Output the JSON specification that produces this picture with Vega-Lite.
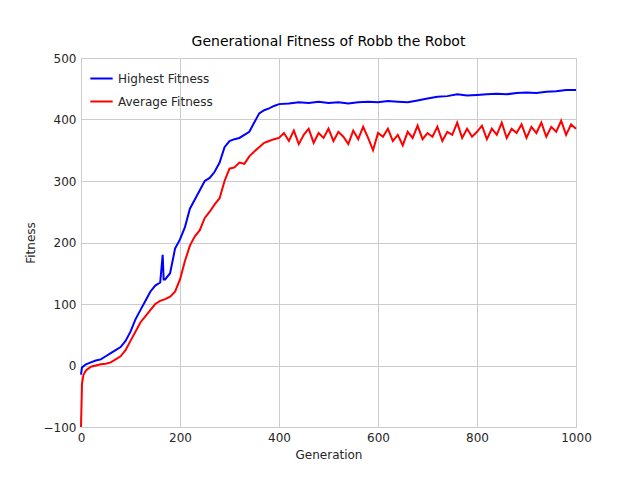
{
  "$schema": "https://vega.github.io/schema/vega-lite/v6.json",
  "width": 495,
  "height": 369,
  "autosize": "none",
  "padding": {"left": 81, "top": 58, "right": 64, "bottom": 53},
  "title": {"text": "Generational Fitness of Robb the Robot", "fontSize": 14, "fontWeight": "normal", "font": "DejaVu Sans", "offset": 3},
  "layer": [
    {
      "data": {"values": [
        {"g":0,"f":-15},{"g":2,"f":-3},{"g":10,"f":2},{"g":20,"f":5},{"g":30,"f":8},{"g":40,"f":10},{"g":50,"f":15},{"g":60,"f":20},{"g":70,"f":25},{"g":80,"f":30},{"g":90,"f":40},{"g":100,"f":55},{"g":110,"f":75},{"g":120,"f":90},{"g":130,"f":105},{"g":140,"f":120},{"g":150,"f":130},{"g":160,"f":135},{"g":165,"f":180},{"g":167,"f":140},{"g":170,"f":140},{"g":180,"f":150},{"g":190,"f":190},{"g":200,"f":205},{"g":210,"f":225},{"g":220,"f":255},{"g":230,"f":270},{"g":240,"f":285},{"g":250,"f":300},{"g":260,"f":305},{"g":270,"f":315},{"g":280,"f":330},{"g":290,"f":355},{"g":300,"f":365},{"g":310,"f":368},{"g":320,"f":370},{"g":330,"f":375},{"g":340,"f":380},{"g":350,"f":395},{"g":360,"f":410},{"g":370,"f":415},{"g":380,"f":418},{"g":390,"f":422},{"g":400,"f":425},{"g":420,"f":426},{"g":440,"f":428},{"g":460,"f":427},{"g":480,"f":429},{"g":500,"f":427},{"g":520,"f":428},{"g":540,"f":426},{"g":560,"f":428},{"g":580,"f":429},{"g":600,"f":428},{"g":620,"f":430},{"g":640,"f":429},{"g":660,"f":428},{"g":680,"f":431},{"g":700,"f":434},{"g":720,"f":437},{"g":740,"f":438},{"g":760,"f":441},{"g":780,"f":439},{"g":800,"f":440},{"g":820,"f":441},{"g":840,"f":442},{"g":860,"f":441},{"g":880,"f":443},{"g":900,"f":444},{"g":920,"f":443},{"g":940,"f":445},{"g":960,"f":446},{"g":980,"f":448},{"g":1000,"f":448}
      ]},
      "mark": {"type": "line", "strokeWidth": 2},
      "encoding": {
        "x": {"field": "g", "type": "quantitative"},
        "y": {"field": "f", "type": "quantitative"},
        "color": {"datum": "Highest Fitness"}
      }
    },
    {
      "data": {"values": [
        {"g":0,"f":-100},{"g":2,"f":-30},{"g":5,"f":-15},{"g":10,"f":-8},{"g":20,"f":-2},{"g":30,"f":0},{"g":40,"f":2},{"g":50,"f":3},{"g":60,"f":5},{"g":70,"f":10},{"g":80,"f":15},{"g":90,"f":25},{"g":100,"f":40},{"g":110,"f":55},{"g":120,"f":70},{"g":130,"f":80},{"g":140,"f":90},{"g":150,"f":100},{"g":160,"f":105},{"g":170,"f":108},{"g":180,"f":112},{"g":190,"f":120},{"g":200,"f":140},{"g":210,"f":170},{"g":220,"f":195},{"g":230,"f":210},{"g":240,"f":220},{"g":250,"f":240},{"g":260,"f":250},{"g":270,"f":262},{"g":280,"f":272},{"g":290,"f":300},{"g":300,"f":320},{"g":310,"f":322},{"g":320,"f":330},{"g":330,"f":328},{"g":340,"f":340},{"g":350,"f":348},{"g":360,"f":355},{"g":370,"f":362},{"g":380,"f":365},{"g":390,"f":368},{"g":400,"f":370},{"g":410,"f":378},{"g":420,"f":365},{"g":430,"f":382},{"g":440,"f":360},{"g":450,"f":375},{"g":460,"f":385},{"g":470,"f":362},{"g":480,"f":378},{"g":490,"f":370},{"g":500,"f":385},{"g":510,"f":365},{"g":520,"f":380},{"g":530,"f":372},{"g":540,"f":360},{"g":550,"f":382},{"g":560,"f":368},{"g":570,"f":388},{"g":580,"f":370},{"g":590,"f":350},{"g":600,"f":378},{"g":610,"f":372},{"g":620,"f":385},{"g":630,"f":365},{"g":640,"f":375},{"g":650,"f":358},{"g":660,"f":380},{"g":670,"f":370},{"g":680,"f":390},{"g":690,"f":368},{"g":700,"f":378},{"g":710,"f":372},{"g":720,"f":388},{"g":730,"f":365},{"g":740,"f":380},{"g":750,"f":375},{"g":760,"f":395},{"g":770,"f":370},{"g":780,"f":385},{"g":790,"f":372},{"g":800,"f":380},{"g":810,"f":390},{"g":820,"f":368},{"g":830,"f":385},{"g":840,"f":375},{"g":850,"f":395},{"g":860,"f":370},{"g":870,"f":385},{"g":880,"f":378},{"g":890,"f":392},{"g":900,"f":370},{"g":910,"f":388},{"g":920,"f":378},{"g":930,"f":395},{"g":940,"f":372},{"g":950,"f":388},{"g":960,"f":380},{"g":970,"f":398},{"g":980,"f":375},{"g":990,"f":392},{"g":1000,"f":385}
      ]},
      "mark": {"type": "line", "strokeWidth": 2},
      "encoding": {
        "x": {"field": "g", "type": "quantitative", "title": "Generation", "scale": {"domain": [0, 1000], "nice": false}, "axis": {"values": [0, 200, 400, 600, 800, 1000], "format": "d"}},
        "y": {"field": "f", "type": "quantitative", "title": "Fitness", "scale": {"domain": [-100, 500], "nice": false}, "axis": {"values": [-100, 0, 100, 200, 300, 400, 500], "format": "d"}},
        "color": {"datum": "Average Fitness"}
      }
    }
  ],
  "encoding": {},
  "resolve": {},
  "config": {
    "font": "DejaVu Sans",
    "view": {"stroke": "#cccccc", "strokeWidth": 1},
    "range": {"category": ["#0000ff", "#ff0000"]},
    "axis": {
      "domain": false, "ticks": false, "gridColor": "#cccccc", "gridOpacity": 1,
      "labelFontSize": 12, "labelColor": "#262626", "labelPadding": 5,
      "titleFontSize": 12, "titleFontWeight": "normal", "titleColor": "#262626", "titlePadding": 6,
      "labelFlush": false
    },
    "legend": {
      "orient": "top-left", "title": null, "symbolType": "stroke", "symbolSize": 500,
      "symbolStrokeWidth": 2, "labelFontSize": 12, "labelColor": "#262626", "offset": 8, "rowPadding": 4
    }
  }
}
